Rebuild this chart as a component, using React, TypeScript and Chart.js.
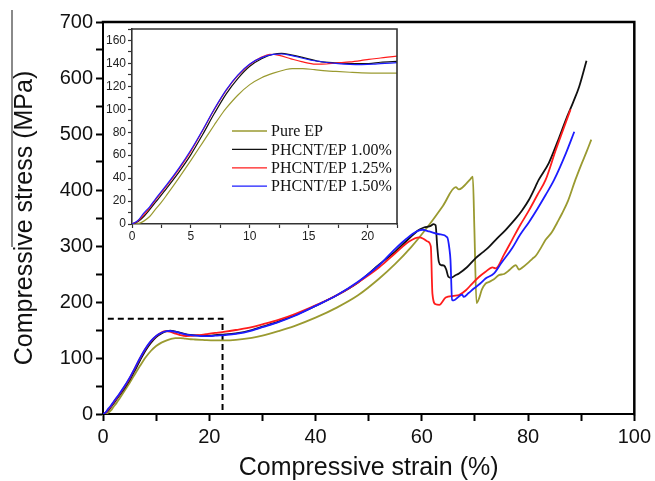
import React, { useEffect, useRef } from 'react';
import { Chart, registerables } from 'chart.js';

Chart.register(...registerables);

// ---- data (strain %, stress MPa) ----
const pureEpStrain = [0,0.5,1,1.5,2,2.5,3,4,5,6,7,7.7,8,9,10,11,12,13,13.6,14.5,15.5,16.5,17.3,18.5,19.5,21,23,25,28,30,33,36,40,44,48,52,55,58,61.4,64,66.4,67,67.6,69.2,69.6,69.9,70.3,70.8,71.3,72,72.7,73.5,74.5,75.5,76.5,77.7,78.3,79,80,80.8,81.5,82.5,83.3,84.5,85.5,86.4,87.5,88.9,90,91,91.9];
const pureEpStress = [0,0.3,2.5,6.5,13,19,26,40.5,55.5,71,86.5,97,101,112.5,121.5,127.5,131.5,134.5,135.5,135.5,134.5,133.5,133,132.3,131.8,131.5,131.5,132.5,136,140,148,157,172,190,212,242,268,298,338,372,405,401,404,420,424,330,198,207,222,233,236,240,248,250,257,266,258,262,270,277,283,298,311,325,342,358,380,418,445,468,490];

const ep100Strain = [0,0.5,1,1.5,2,3,4,5,6,7,8,9,10,11,12,12.7,13.5,14.4,15.9,17,17.9,19,20.1,21.1,23,25,28,30,33,36,40,44,48,52,55,57,59.5,60.4,61.7,62.2,62.6,62.9,63.2,63.6,64.2,64.6,65,65.5,66.2,67,68.5,70.1,71.5,72.7,74,75.8,77.5,78.9,80.2,81.4,82,83.9,85.5,87.1,88.5,89.6,91];
const ep100Stress = [0,2,6.5,12.5,19,32,45.5,60.5,78,96.5,113.5,127,137.5,144,148,148.8,147.5,145.5,141.8,140.6,140.3,139.8,139.8,141,142,144,150,156,165,176,193,212,235,267,290,308,329,333,336,339,337,300,272,266,265,258,245,243,247,251,262,278,289,299,312,329,347,364,383,406,418,448,485,525,557,584,631];

const ep125Strain = [0,0.5,1,1.5,2,3,4,5,6,7,8,9,10,11,11.7,12.5,13.5,14.4,15.6,16.5,17.3,18.5,19.5,20.1,21.1,23,25,28,30,33,36,40,44,48,52,55,57.6,59.5,60.3,61.1,61.7,62,62.6,63.3,64.5,66,67,68.3,69.5,70.8,72,73.3,73.9,75.5,77,78.5,80.2,81.8,83.3,85.2,86.5,88];
const ep125Stress = [0,2.5,8,14,21,34,48,63.5,81.5,100,116.5,129.5,139,145.5,148,147,144,141.5,139.3,139.5,140.3,141.3,142.6,143.5,144.7,147,150,155,160,168,178,194,212,235,262,287,308,315.5,313,308,299,215,196,195,208,211,212.5,221,233,245,254,262,260,285,311,337,364,392,418,471,505,544];

const ep150Strain = [0,0.5,1,1.5,2,3,4,5,6,7,8,9,10,11,12,12.7,13.5,14.5,15.5,16.5,17.5,18.5,19.5,20.5,21.1,23,25,28,30,33,36,40,44,48,52,55,57,58.9,60.1,61.4,63.3,64.8,65.2,65.4,65.7,66,67,67.6,67.9,68.8,69.8,71,72,73.6,75,77,78.5,80.2,81.8,83.3,84.9,87.1,88.7];
const ep150Stress = [0,3,9.5,15,22,35,49,64.5,82,100.5,117,130,139.5,145,147.8,148.2,147,144.5,142.3,140.8,139.8,139.2,139,139.3,139.8,141,143,149,155,164,175,193,212,236,266,295,312,325.5,329,326,321,315.5,295,275,204,203,210,213,209,216,224,233,242,251,270,296,320,343,367,391,418,465,504];

const seriesLabels = ['Pure EP', 'PHCNT/EP 1.00%', 'PHCNT/EP 1.25%', 'PHCNT/EP 1.50%'];
const seriesColors = ['#9a9a30', '#111111', '#ff1c1c', '#1c1cff'];

// tick labels
const mainXTickLabels = [0, 20, 40, 60, 80, 100];
const mainYTickLabels = [0, 100, 200, 300, 400, 500, 600, 700];
const insetXTickLabels = [0, 5, 10, 15, 20];
const insetYTickLabels = [0, 20, 40, 60, 80, 100, 120, 140, 160];

// zoom window (dashed box in main plot = inset range)
const zoomBoxStrain = [0, 0, 22.5, 22.5, 0];
const zoomBoxStress = [0, 170, 170, 0, 0];

const SANS = '"Liberation Sans", Arial, Helvetica, sans-serif';
const SERIF = '"Liberation Serif", "Times New Roman", Times, serif';

const toPts = (xs: number[], ys: number[]) => xs.map((x, i) => ({ x, y: ys[i] }));
const allStrain = [pureEpStrain, ep100Strain, ep125Strain, ep150Strain];
const allStress = [pureEpStress, ep100Stress, ep125Stress, ep150Stress];
const drawOrder = [3, 2, 1, 0];

const framePlugin = {
  id: 'frame',
  afterDatasetsDraw(chart: any, _args: any, opts: any) {
    const { ctx, chartArea } = chart;
    const { left, top, right, bottom } = chartArea;
    ctx.save();
    ctx.strokeStyle = opts.color || '#000';
    ctx.lineWidth = opts.width || 2;
    ctx.beginPath();
    ctx.moveTo(left - ctx.lineWidth / 2, top);
    ctx.lineTo(right, top);
    ctx.lineTo(right, bottom + ctx.lineWidth / 2);
    ctx.stroke();
    ctx.restore();
  },
};

const insetLegendPlugin = {
  id: 'insetLegend',
  afterDatasetsDraw(chart: any) {
    const { ctx, chartArea } = chart;
    const x0 = chartArea.left + 100;
    const y0 = chartArea.top + 102;
    ctx.save();
    chart.data.datasets.forEach((ds: any, i: number) => {
      if (!ds.inLegend) return;
      const y = y0 + i * 18.4;
      ctx.strokeStyle = ds.borderColor;
      ctx.lineWidth = 1.3;
      ctx.beginPath();
      ctx.moveTo(x0, y);
      ctx.lineTo(x0 + 35, y);
      ctx.stroke();
      ctx.fillStyle = '#111';
      ctx.font = `16px ${SERIF}`;
      ctx.textBaseline = 'middle';
      ctx.textAlign = 'left';
      ctx.fillText(ds.label, x0 + 39, y + 1);
    });
    ctx.restore();
  },
};

function makeDatasets(width: number, withBox: boolean) {
  const ds: any[] = seriesLabels.map((label, i) => ({
    label,
    data: toPts(allStrain[i], allStress[i]),
    borderColor: seriesColors[i],
    backgroundColor: seriesColors[i],
    borderWidth: width,
    pointRadius: 0,
    showLine: true,
    cubicInterpolationMode: 'monotone',
    order: drawOrder[i],
    inLegend: true,
  }));
  if (withBox) {
    ds.push({
      label: 'zoom',
      data: toPts(zoomBoxStrain, zoomBoxStress),
      borderColor: '#000',
      borderWidth: 2,
      borderDash: [6, 4],
      pointRadius: 0,
      showLine: true,
      tension: 0,
      order: 10,
      inLegend: false,
      clip: 4,
    });
  }
  return ds;
}

export default function App() {
  const mainRef = useRef<HTMLCanvasElement>(null);
  const insetRef = useRef<HTMLCanvasElement>(null);

  useEffect(() => {
    const main = new Chart(mainRef.current as HTMLCanvasElement, {
      type: 'scatter',
      data: { datasets: makeDatasets(1.8, true) },
      plugins: [framePlugin],
      options: {
        responsive: false,
        animation: false,
        devicePixelRatio: 1,
        layout: { padding: { top: 22, right: 20, left: 0, bottom: 0 } },
        plugins: {
          legend: { display: false },
          tooltip: { enabled: false },
          frame: { color: '#000', width: 2.5 },
        } as any,
        scales: {
          x: {
            type: 'linear',
            min: 0,
            max: 100,
            afterFit: (s: any) => { s.height = 67; },
            grid: { drawOnChartArea: false, drawTicks: true, tickLength: 7, tickColor: '#000', tickWidth: 2 },
            border: { display: true, color: '#000', width: 2 },
            ticks: {
              stepSize: 10,
              autoSkip: false,
              maxRotation: 0,
              padding: 4,
              color: '#111',
              font: { family: SANS, size: 20 },
              callback: (v: any) => (mainXTickLabels.includes(Number(v)) ? String(v) : ''),
            },
            title: {
              display: true,
              text: 'Compressive strain (%)',
              color: '#111',
              font: { family: SANS, size: 25, lineHeight: 1 },
              padding: { top: 0, bottom: 0 },
            },
          },
          y: {
            type: 'linear',
            min: 0,
            max: 700,
            afterFit: (s: any) => { s.width = 103; },
            grid: { drawOnChartArea: false, drawTicks: true, tickLength: 7, tickColor: '#000', tickWidth: 2 },
            border: { display: true, color: '#000', width: 2 },
            ticks: {
              stepSize: 50,
              autoSkip: false,
              padding: 3,
              color: '#111',
              font: { family: SANS, size: 20 },
              callback: (v: any) => (mainYTickLabels.includes(Number(v)) ? String(v) : ''),
            },
            title: {
              display: true,
              text: 'Compressive stress (MPa)',
              color: '#111',
              font: { family: SANS, size: 25, lineHeight: 1.2 },
              padding: { top: 10, bottom: 0 },
            },
          },
        },
      } as any,
    });

    const inset = new Chart(insetRef.current as HTMLCanvasElement, {
      type: 'scatter',
      data: { datasets: makeDatasets(1.2, false) },
      plugins: [framePlugin, insetLegendPlugin],
      options: {
        responsive: false,
        animation: false,
        devicePixelRatio: 1,
        layout: { padding: { top: 14, right: 5, left: 0, bottom: 0 } },
        plugins: {
          legend: { display: false },
          tooltip: { enabled: false },
          frame: { color: '#333', width: 1.6 },
        } as any,
        scales: {
          x: {
            type: 'linear',
            min: 0,
            max: zoomBoxStrain[2],
            afterFit: (s: any) => { s.height = 26; },
            grid: { drawOnChartArea: false, drawTicks: true, tickLength: 4, tickColor: '#333', tickWidth: 1.2 },
            border: { display: true, color: '#333', width: 1.6 },
            ticks: {
              stepSize: 2.5,
              autoSkip: false,
              maxRotation: 0,
              padding: 1,
              color: '#222',
              font: { family: SANS, size: 12 },
              callback: (v: any) => (insetXTickLabels.includes(Number(v)) ? String(v) : ''),
            },
          },
          y: {
            type: 'linear',
            min: 0,
            max: zoomBoxStress[1],
            afterFit: (s: any) => { s.width = 32; },
            grid: { drawOnChartArea: false, drawTicks: true, tickLength: 4, tickColor: '#333', tickWidth: 1.2 },
            border: { display: true, color: '#333', width: 1.6 },
            ticks: {
              stepSize: 10,
              autoSkip: false,
              padding: 2,
              color: '#222',
              font: { family: SANS, size: 12 },
              callback: (v: any) => (insetYTickLabels.includes(Number(v)) ? String(v) : ''),
            },
          },
        },
      } as any,
    });

    return () => {
      main.destroy();
      inset.destroy();
    };
  }, []);

  return (
    <div style={{ position: 'absolute', left: 0, top: 0, width: 655, height: 481, background: '#fff', overflow: 'hidden' }}>
      <canvas ref={mainRef} width={655} height={481} style={{ position: 'absolute', left: 0, top: 0 }} />
      <canvas ref={insetRef} width={302} height={235} style={{ position: 'absolute', left: 100, top: 15 }} />
      <div style={{ position: 'absolute', left: 11, top: 10, width: 2, height: 237, background: '#8a8a8a' }} />
    </div>
  );
}
